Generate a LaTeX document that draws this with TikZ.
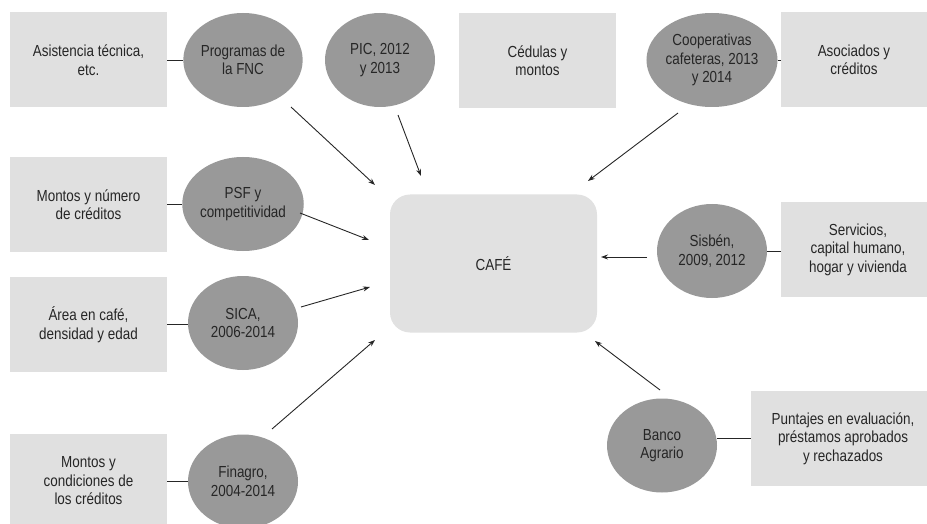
\documentclass[tikz,border=0pt]{standalone}
\usepackage{fontspec}
\setmainfont{Liberation Sans}[FakeStretch=0.84]
\usetikzlibrary{arrows.meta,shapes.geometric}
\definecolor{boxgray}{HTML}{E0E0E0}
\definecolor{cafegray}{HTML}{E1E1E1}
\definecolor{ellgray}{HTML}{999999}
\definecolor{txt}{HTML}{262626}
\begin{document}
\begin{tikzpicture}[x=1pt,y=-1pt,
  every node/.style={font=\fontsize{16}{18.5}\selectfont, text=txt, align=center, inner sep=0pt},
  infobox/.style={fill=boxgray, minimum width=157pt, minimum height=95pt},
  source/.style={ellipse, fill=ellgray, minimum width=110pt, minimum height=94pt},
  link/.style={draw=black!85, line width=0.9pt},
  arr/.style={draw=black!85, line width=0.9pt, -{Stealth[length=7pt,width=5pt]}}]
\useasboundingbox (0,0) rectangle (927,524);

% central node
\node[fill=cafegray, rounded corners=20pt, minimum width=207pt, minimum height=138pt] (cafe) at (493.5,263.5) {CAFÉ};

% info boxes
\node[infobox] (asis) at (88.5,60) {Asistencia técnica,\\etc.};
\node[infobox] (cedu) at (537.5,60.5) {Cédulas y\\montos};
\node[infobox, minimum width=146pt] (asoc) at (854,60) {Asociados y\\créditos};
\node[infobox] (mont) at (88.5,204.5) {Montos y número\\de créditos};
\node[infobox] (area) at (88.5,324.5) {Área en café,\\densidad y edad};
\node[infobox] (cond) at (88.5,481) {Montos y\\condiciones de\\los créditos};
\node[infobox, minimum width=154pt] (serv) at (858,249.5) {Servicios,\\capital humano,\\hogar y vivienda};
\node[infobox, minimum width=184pt] (punt) at (843,438.5) {Puntajes en evaluación,\\préstamos aprobados\\y rechazados};

% sources
\node[source] (prog) at (243,60) {Programas de\\la FNC};
\node[source] (pic) at (380,60) {PIC, 2012\\y 2013};
\node[source] (coop) at (712,60) {Cooperativas\\cafeteras, 2013\\y 2014};
\node[source] (psf) at (243,204) {PSF y\\competitividad};
\node[source] (sica) at (243,323) {SICA,\\2006-2014};
\node[source] (fina) at (243,481.5) {Finagro,\\2004-2014};
\node[source] (sisb) at (712,251) {Sisbén,\\2009, 2012};
\node[source] (banc) at (662,445.5) {Banco\\Agrario};

% links box - source
\draw[link] (asis.east) -- (prog.west);
\draw[link] (coop.east) -- (asoc.west);
\draw[link] (mont.east) -- (mont.east -| psf.west);
\draw[link] (area.east) -- (area.east -| sica.west);
\draw[link] (cond.east) -- (cond.east -| fina.west);
\draw[link] (sisb.east) -- (sisb.east -| serv.west);
\draw[link] (punt.west) -- (punt.west -| banc.east);

% arrow end points
\coordinate (s1) at (291,107);  \coordinate (t1) at (375,185);
\coordinate (s2) at (398,115);  \coordinate (t2) at (421,176);
\coordinate (s3) at (678,113);  \coordinate (t3) at (588,181);
\coordinate (s4) at (300,213);  \coordinate (t4) at (369,240);
\coordinate (s5) at (301,307);  \coordinate (t5) at (370,287);
\coordinate (s6) at (272,429);  \coordinate (t6) at (375,340);
\coordinate (s7) at (647,257);  \coordinate (t7) at (601,257);
\coordinate (s8) at (660,390);  \coordinate (t8) at (595,341);

\draw[arr] (s1) -- (t1);
\draw[arr] (s2) -- (t2);
\draw[arr] (s3) -- (t3);
\draw[arr] (s4) -- (t4);
\draw[arr] (s5) -- (t5);
\draw[arr] (s6) -- (t6);
\draw[arr] (s7) -- (t7);
\draw[arr] (s8) -- (t8);
\end{tikzpicture}
\end{document}
